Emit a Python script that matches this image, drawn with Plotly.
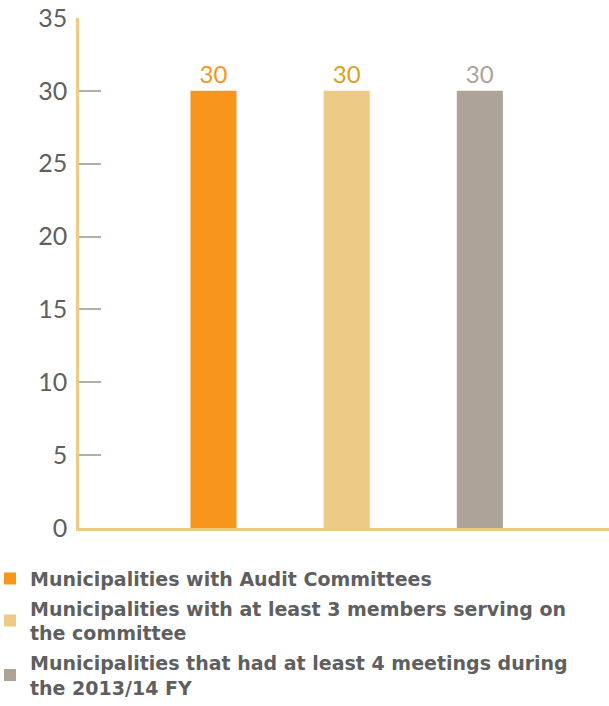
import plotly.graph_objects as go

series_names = [
    "Municipalities with Audit Committees",
    "Municipalities with at least 3 members serving on<br>the committee",
    "Municipalities that had at least 4 meetings during<br>the 2013/14 FY",
]
categories = [0, 1, 2]
values = [30, 30, 30]
bar_colors = ["#F7961A", "#EDCB87", "#ADA397"]
label_colors = ["#F7961A", "#D9A21B", "#ADA397"]
y_ticks = [0, 5, 10, 15, 20, 25, 30, 35]

fig = go.Figure()
for i, name in enumerate(series_names):
    fig.add_trace(go.Bar(
        x=[categories[i]], y=[values[i]], name=name,
        marker=dict(color=bar_colors[i], line=dict(width=0)),
        width=0.346,
        text=[str(values[i])], textposition="outside",
        textfont=dict(color=label_colors[i], size=24, family="Lato"),
        cliponaxis=False, legendgroup=f"g{i}",
    ))

fig.update_layout(
    width=609, height=706,
    margin=dict(l=79, r=0, t=18, b=178, autoexpand=False),
    paper_bgcolor="white", plot_bgcolor="white",
    barmode="overlay",
    showlegend=True,
    legend=dict(
        x=-89/530, y=-0.062, xanchor="left", yanchor="top",
        font=dict(family="DejaVu Sans", size=19, color="#5F5F5F", weight="bold"),
        traceorder="grouped", tracegroupgap=2,
        itemwidth=30, bgcolor="rgba(0,0,0,0)",
    ),
    xaxis=dict(
        range=[-1.01, 2.97], showticklabels=False, ticks="",
        showgrid=False, zeroline=False,
        showline=True, linecolor="#EDCB87", linewidth=2.5,
    ),
    yaxis=dict(
        range=[0, 35], tickvals=y_ticks, showgrid=False, zeroline=False,
        showline=True, linecolor="#EDCB87", linewidth=2.5,
        ticks="inside", ticklen=22, tickcolor="#B5AEA3", tickwidth=1.5,
        tickfont=dict(family="Lato", size=25, color="#5F5F5F"),
        ticklabelstandoff=4,
    ),
)

fig.write_html("out.html")
